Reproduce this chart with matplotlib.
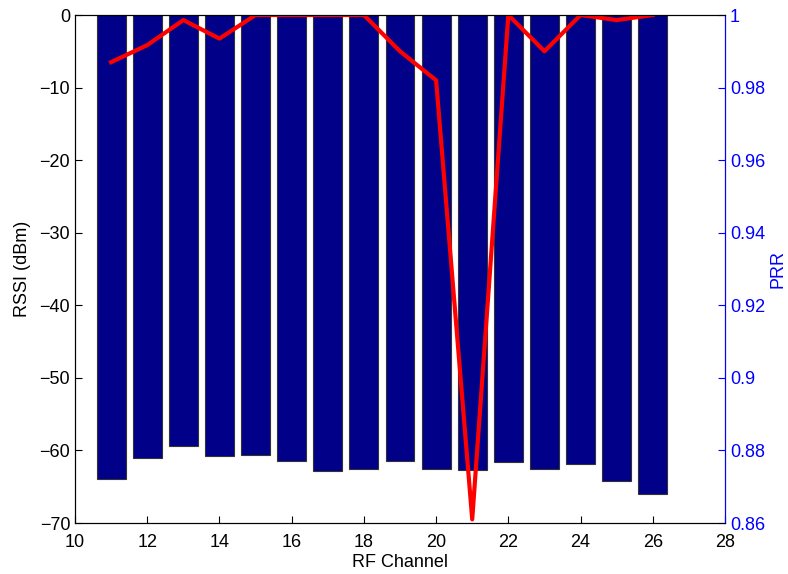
import matplotlib
matplotlib.use("Agg")
import matplotlib.pyplot as plt

plt.rcParams['font.family'] = ['Liberation Sans', 'DejaVu Sans']
plt.rcParams['font.size'] = 13

channels = [11, 12, 13, 14, 15, 16, 17, 18, 19, 20, 21, 22, 23, 24, 25, 26]
rssi = [-63.9, -61.0, -59.4, -60.8, -60.6, -61.4, -62.8, -62.5, -61.4, -62.6,
        -62.7, -61.6, -62.5, -61.9, -64.2, -66.0]
prr = [0.987, 0.9917, 0.9986, 0.9935, 1.0, 1.0, 1.0, 1.0, 0.990, 0.982,
       0.861, 1.0, 0.990, 1.0, 0.9986, 1.0]

fig = plt.figure(figsize=(7.88, 5.74), dpi=100)
ax = fig.add_axes([75/788, 1 - 523/574, 650/788, 508/574])

ax.bar(channels, rssi, width=0.8, color='#000088', edgecolor='#333333', linewidth=0.8)
ax.set_xlim(10, 28)
ax.set_ylim(-70, 0)
ax.set_xticks(range(10, 29, 2))
ax.set_yticks(range(-70, 1, 10))
ax.set_yticklabels(['\u221270', '\u221260', '\u221250', '\u221240', '\u221230',
                    '\u221220', '\u221210', '0'])
ax.tick_params(direction='in', length=5, top=False, right=False)
ax.tick_params(axis='x', pad=8)
ax.set_xlabel('RF Channel', labelpad=2)
ax.set_ylabel('RSSI (dBm)', labelpad=6)

ax2 = ax.twinx()
ax2.plot(channels, prr, color='#ff0000', linewidth=3)
ax2.set_ylim(0.86, 1.0)
ax2.set_yticks([0.86, 0.88, 0.9, 0.92, 0.94, 0.96, 0.98, 1.0])
ax2.set_yticklabels(['0.86', '0.88', '0.9', '0.92', '0.94', '0.96', '0.98', '1'])
ax2.tick_params(direction='in', length=5, colors='#0000ff')
ax2.spines['right'].set_color('#0000ff')
ax2.set_ylabel('PRR', color='#0000ff', labelpad=3)

fig.savefig('out.png', dpi=100)
